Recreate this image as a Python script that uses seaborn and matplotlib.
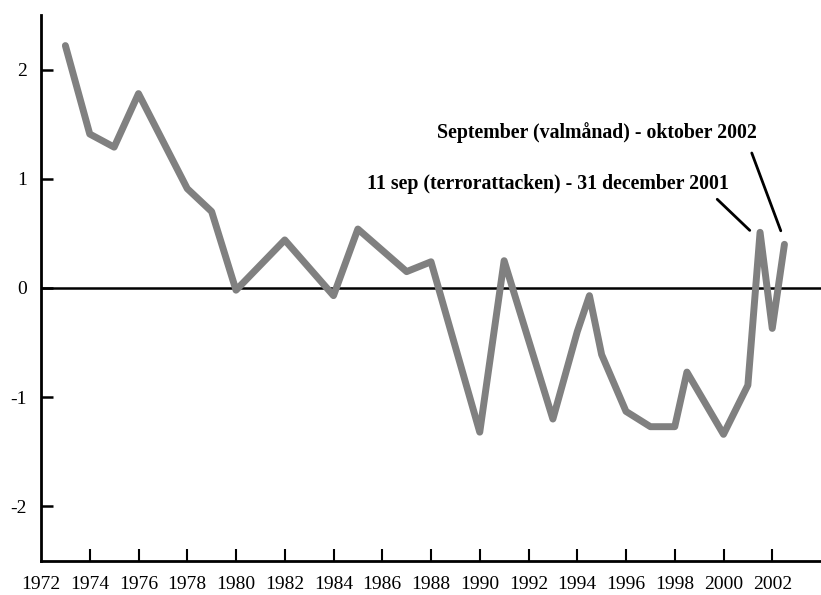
import pandas as pd
import matplotlib.pyplot as plt
import seaborn as sns

# Värden
years = [1973, 1974, 1975, 1976, 1978, 1979, 1980, 1982, 1984, 1985, 1987, 1988,
         1990, 1991, 1993, 1994, 1994.5, 1995, 1996, 1997, 1998, 1998.5, 2000,
         2001, 2001.5, 2002, 2002.5]
values = [2.22, 1.41, 1.29, 1.78, 0.91, 0.70, -0.02, 0.44, -0.07, 0.54, 0.15, 0.24,
          -1.32, 0.25, -1.20, -0.40, -0.07, -0.61, -1.13, -1.27, -1.27, -0.77, -1.34,
          -0.89, 0.51, -0.37, 0.40]
x_ticks = list(range(1974, 2003, 2))
x_labels = list(range(1972, 2003, 2))
y_ticks = [-2, -1, 0, 1, 2]

df = pd.DataFrame({'year': years, 'value': values})

sns.set_style('white')
plt.rcParams['font.family'] = ['Liberation Serif', 'DejaVu Serif']
plt.rcParams['text.color'] = 'black'
plt.rcParams['xtick.color'] = 'black'
plt.rcParams['ytick.color'] = 'black'

fig = plt.figure(figsize=(8.21, 5.95), dpi=100)
ax = fig.add_axes([41 / 821, 1 - 561 / 595, 780 / 821, 546 / 595])

ax.axhline(0, color='black', lw=1.8, zorder=1)
sns.lineplot(data=df, x='year', y='value', ax=ax, color='#808080', lw=5,
             solid_capstyle='round', solid_joinstyle='round', zorder=3)

ax.set_xlim(1972, 2004)
ax.set_ylim(-2.5, 2.5)
ax.set_xlabel('')
ax.set_ylabel('')

for side in ['top', 'right']:
    ax.spines[side].set_visible(False)
for side in ['left', 'bottom']:
    ax.spines[side].set_color('black')
    ax.spines[side].set_linewidth(2)

ax.set_xticks(x_ticks)
ax.set_xticklabels([])
ax.tick_params(axis='x', bottom=True, direction='in', length=8.6, width=1.5)
# årtalen ligger en bit under axeln, även 1972
for yr in x_labels:
    ax.annotate(str(yr), xy=(yr, 0), xycoords=('data', 'axes fraction'),
                xytext=(0, -17), textcoords='offset points', ha='center', va='center',
                fontsize=14, annotation_clip=False)

ax.set_yticks(y_ticks)
ax.set_yticklabels([str(v) for v in y_ticks], fontsize=14)
ax.tick_params(axis='y', left=True, direction='in', length=8.6, width=1.8, pad=10)

ax.text(1994.79, 1.425, 'September (valmånad) - oktober 2002', ha='center', va='center',
        fontsize=14.3, fontweight='bold')
ax.text(1992.8, 0.95, '11 sep (terrorattacken) - 31 december 2001', ha='center', va='center',
        fontsize=14.3, fontweight='bold')
ax.annotate('', xy=(2002.39, 0.50), xytext=(2001.12, 1.26),
            arrowprops=dict(arrowstyle='-', lw=2, color='black'))
ax.annotate('', xy=(2001.16, 0.51), xytext=(1999.66, 0.83),
            arrowprops=dict(arrowstyle='-', lw=2, color='black'))

fig.savefig('out.png', dpi=100)
